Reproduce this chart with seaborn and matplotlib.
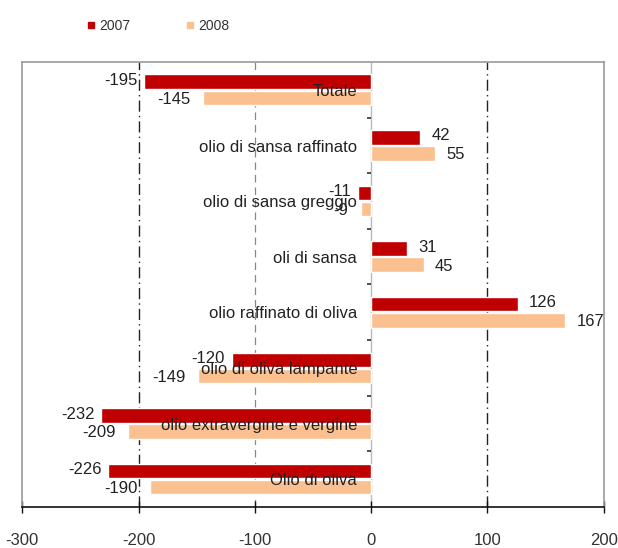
import matplotlib
matplotlib.use("Agg")
import matplotlib.pyplot as plt
import seaborn as sns
import pandas as pd
from matplotlib.lines import Line2D

categories = ["Totale", "olio di sansa raffinato", "olio di sansa greggio", "oli di sansa",
              "olio raffinato di oliva", "olio di oliva lampante",
              "olio extravergine e vergine", "Olio di oliva"]
years = ["2007", "2008"]
values_2007 = [-195, 42, -11, 31, 126, -120, -232, -226]
values_2008 = [-145, 55, -9, 45, 167, -149, -209, -190]
x_ticks = [-300, -200, -100, 0, 100, 200]

red = "#C00000"
orange = "#FAC090"

df = pd.DataFrame({
    "cat": categories * 2,
    "year": [years[0]] * len(categories) + [years[1]] * len(categories),
    "val": values_2007 + values_2008,
})

sns.set_theme(style="white")
plt.rcParams["font.family"] = ["Liberation Sans", "DejaVu Sans"]

fig = plt.figure(figsize=(6.18, 5.48), dpi=100)
ax = fig.add_axes([0.036, 0.075, 0.941, 0.812])

sns.barplot(data=df, y="cat", x="val", hue="year", orient="h",
            palette=[red, orange], width=0.58, gap=0.1, ax=ax,
            legend=False, saturation=1, order=categories, hue_order=years)

ax.set_xlim(-300, 200)
ax.set_ylim(len(categories) - 0.5, -0.5)
ax.set_xticks(x_ticks)
ax.set_xticklabels([str(t) for t in x_ticks], fontsize=12, color="#333333")
ax.set_yticks([])
ax.set_xlabel("")
ax.set_ylabel("")

# grid lines
ax.axvline(-200, color="#222222", lw=1.0, ls=(0, (8, 3, 1, 3)), zorder=0)
ax.axvline(100, color="#222222", lw=1.0, ls=(0, (8, 3, 1, 3)), zorder=0)
ax.axvline(-100, color="#888888", lw=0.9, ls=(0, (6, 4)), zorder=0)
ax.axvline(0, color="#bbbbbb", lw=1.0, zorder=0.5)
# small category separator ticks on zero axis
bounds = [i + 0.5 for i in range(len(categories) - 1)]
ax.hlines(bounds, -4, 0, color="#333333", lw=1.2)

for s in ["top", "left", "right"]:
    ax.spines[s].set_color("#999999")
    ax.spines[s].set_linewidth(1.2)
ax.spines["bottom"].set_color("#111111")
ax.spines["bottom"].set_linewidth(1.2)
ax.tick_params(axis="x", direction="inout", length=9, width=1.0, color="#111111",
               bottom=True, pad=14)

# category labels near zero
for i, c in enumerate(categories):
    ax.text(-12, i + 0.03, c, ha="right", va="center", fontsize=12, color="#222222",
            zorder=5)

# value labels
for k, cont in enumerate(ax.containers):
    vals = values_2007 if k == 0 else values_2008
    for p, v in zip(cont.patches, vals):
        end = p.get_x() + p.get_width()
        yc = p.get_y() + p.get_height() / 2
        if v > 0:
            dx = 8
        else:
            dx = -5 if k == 0 else -9
        dy = 1 if k == 0 else -1
        ax.annotate(str(v), (end, yc), xytext=(dx, dy), textcoords="offset points",
                    ha="left" if v > 0 else "right", va="center", fontsize=12,
                    color="#222222", zorder=6)

handles = [Line2D([], [], marker="s", ls="", color=red, markersize=4),
           Line2D([], [], marker="s", ls="", color=orange, markersize=4)]
fig.legend(handles, years, loc="center left", bbox_to_anchor=(0.12, 0.952), ncol=2,
           frameon=False, fontsize=10, columnspacing=4.0, handlelength=0.6,
           handletextpad=0.3, labelcolor="#333333")

fig.savefig("out.png", dpi=100)
